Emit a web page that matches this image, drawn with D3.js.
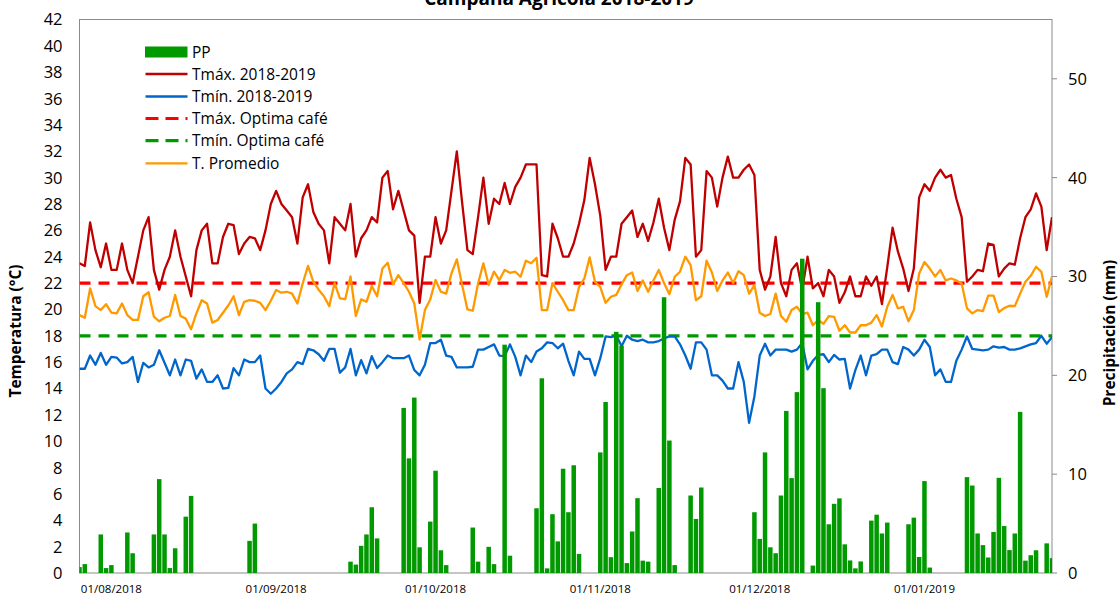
<!DOCTYPE html>
<html><head><meta charset="utf-8">
<script src="https://cdn.jsdelivr.net/npm/d3@7"></script>
<style>
html,body{margin:0;padding:0;background:#fff;}
svg{display:block;font-family:"Open Sans",sans-serif;}
</style></head>
<body><svg id="c" width="1120" height="595"></svg>
<script>
const title = "Campaña Agrícola 2018-2019";
const startDate = "2018-07-26";
const tickLabels = ["01/08/2018","01/09/2018","01/10/2018","01/11/2018","01/12/2018","01/01/2019"];
const tickDates = ["2018-08-01","2018-09-01","2018-10-01","2018-11-01","2018-12-01","2019-01-01"];
const leftTicks = [0,2,4,6,8,10,12,14,16,18,20,22,24,26,28,30,32,34,36,38,40,42];
const rightTicks = [0,10,20,30,40,50];
const tmaxOpt = 22;
const tminOpt = 18;

const tmax = [23.5,23.3,26.6,24.5,23.2,25.0,23.0,23.0,25.0,23.0,22.0,24.0,26.0,27.0,23.0,21.5,23.0,24.0,26.0,24.0,
22.5,21.0,24.5,26.0,26.5,23.5,23.5,25.5,26.5,26.4,24.2,25.0,25.5,25.4,24.5,26.0,28.0,29.0,28.0,27.5,
27.0,25.0,28.5,29.5,27.4,26.5,26.0,23.5,27.0,26.5,26.0,28.0,24.0,25.4,26.0,27.0,26.6,30.0,30.5,27.6,
29.0,27.5,26.0,25.6,20.5,24.0,24.0,27.0,25.0,26.0,29.0,32.0,28.1,24.5,24.2,27.0,30.0,26.5,28.4,28.0,
29.6,28.0,29.3,30.0,31.0,31.0,31.0,22.6,22.5,26.5,25.4,24.0,24.0,25.0,26.5,28.3,31.5,29.5,27.1,23.0,
24.0,24.0,26.5,27.0,27.5,25.5,26.5,25.2,26.6,28.4,26.2,24.5,26.8,28.2,31.5,31.0,24.0,24.5,30.5,30.0,
27.8,30.0,31.6,30.0,30.0,30.6,31.0,30.2,23.0,21.5,22.5,25.5,22.0,21.0,23.0,23.5,21.5,24.0,21.6,22.0,
21.0,23.0,22.5,20.5,21.3,22.5,21.0,21.0,22.5,21.8,22.5,20.4,23.2,26.2,24.4,23.1,21.4,23.1,28.5,29.5,
29.0,30.0,30.6,30.0,30.2,28.4,27.0,22.1,22.5,23.0,22.9,25.0,24.9,22.5,23.1,23.5,23.4,25.4,27.0,27.6,
28.8,27.8,24.5,27.0];

const tmin = [15.5,15.5,16.5,15.8,16.7,15.8,16.4,16.35,15.9,16.0,16.4,14.5,15.95,15.6,15.8,16.9,15.95,15.0,16.2,15.0,
16.2,16.1,14.75,15.45,14.5,14.5,15.0,14.0,14.05,15.55,15.0,16.2,16.0,16.0,16.5,14.0,13.6,14.0,14.5,15.15,
15.45,16.0,15.85,17.0,16.9,16.6,16.1,17.0,17.0,15.2,15.6,17.0,15.0,16.15,15.15,16.45,15.55,16.0,16.5,16.3,
16.3,16.3,16.5,15.4,15.0,15.8,17.45,17.45,17.7,16.5,16.4,15.6,15.6,15.6,15.65,16.95,16.95,17.15,17.35,16.5,
16.45,17.35,16.4,15.0,16.5,16.0,16.8,17.05,17.5,17.45,17.05,17.4,16.1,15.0,16.8,16.25,16.25,15.0,16.3,17.95,
17.9,18.05,17.2,18.0,17.7,17.6,17.7,17.5,17.5,17.6,17.8,17.95,17.95,17.35,16.5,15.5,17.5,17.5,16.95,15.0,
15.0,14.6,14.0,14.0,16.0,14.5,11.4,13.4,16.5,17.4,16.5,16.95,16.95,16.95,16.8,16.95,17.45,15.45,16.1,16.55,
16.6,16.0,16.55,16.2,16.25,14.0,15.4,16.5,15.0,16.5,16.6,16.95,16.95,16.0,15.85,17.15,16.95,16.5,16.95,17.7,
17.15,15.0,15.45,14.5,14.5,16.1,16.95,17.95,17.0,16.95,16.9,16.95,17.2,17.1,17.15,16.95,16.95,17.05,17.2,17.35,
17.45,18.0,17.4,17.9];

const tprom = [19.57,19.37,21.6,20.25,19.95,20.4,19.75,19.7,20.45,19.57,19.2,19.2,21.0,21.3,19.45,19.1,19.37,19.5,21.1,19.5,
19.3,18.5,19.7,20.7,20.45,19.0,19.2,19.75,20.3,21.0,19.57,20.58,20.7,20.66,20.5,19.95,20.66,21.47,21.27,21.34,
21.2,20.45,21.97,23.3,22.1,21.5,21.0,20.25,22.0,20.84,20.78,22.5,19.5,20.76,20.58,21.77,21.0,23.1,23.54,21.9,
22.6,22.0,21.34,20.45,17.72,19.95,20.76,22.23,21.34,21.2,22.73,23.8,21.85,20.0,19.9,21.97,23.5,21.85,22.86,22.23,
22.99,22.78,22.86,22.48,23.7,23.5,23.92,19.95,19.95,22.0,21.34,20.7,19.95,19.95,21.7,22.35,23.95,22.1,21.7,20.5,
20.96,21.1,21.9,22.6,22.8,21.4,22.2,21.34,22.2,22.99,22.0,21.16,22.48,22.86,24.0,23.37,20.7,21.0,23.7,22.8,
21.4,22.2,22.8,22.0,22.9,22.6,21.2,21.85,19.75,19.5,19.65,21.2,19.5,19.06,19.95,20.2,19.65,19.75,18.8,19.2,
18.9,19.5,19.44,18.38,18.8,18.25,18.25,18.8,18.8,19.0,19.57,18.7,20.2,21.1,20.08,20.2,19.1,19.95,22.73,23.6,
23.1,22.5,23.0,22.2,22.35,22.2,21.97,20.08,19.7,19.95,19.87,21.04,21.04,19.8,20.1,20.28,20.25,21.2,22.1,22.55,
23.24,22.86,20.96,22.5];

const pp = [0.6,0.9,0,0,3.9,0.5,0.8,0,0,4.1,2.0,0,0,0,3.9,9.5,3.9,0.5,2.5,0,
5.7,7.8,0,0,0,0,0,0,0,0,0,0,3.25,5.0,0,0,0,0,0,0,
0,0,0,0,0,0,0,0,0,0,0,1.15,0.85,2.75,3.9,6.65,3.5,0,0,0,
0,16.7,11.6,17.75,2.6,0,5.2,10.35,2.3,0.8,0,0,0,0,4.6,1.15,0,2.65,0.9,0,
23.1,1.75,0,0,0,0,6.55,19.7,0.47,5.95,3.2,10.55,6.15,10.9,1.93,0,0,0,12.2,17.3,
1.6,24.4,23.0,1.0,4.2,7.57,1.25,1.15,0,8.6,27.9,13.4,0.8,0,0,7.84,5.47,8.65,0,0,
0,0,0,0,0,0,0,6.15,3.45,12.2,2.6,2.0,7.84,16.4,9.6,18.3,31.8,0,0.75,27.4,
18.7,4.93,7.0,7.55,2.9,1.27,0.47,1.17,0,5.3,5.9,4.0,5.1,0,0,0,4.93,5.6,1.62,9.3,
0.55,0,0,0,0,0,0,9.7,8.85,4.0,2.82,1.57,4.15,9.63,4.75,2.32,4.0,16.3,1.25,1.8,
2.3,0,3.0,1.5];

const legendItems = [
  {label:"PP", type:"bar", color:"#009900"},
  {label:"Tmáx. 2018-2019", type:"line", color:"#C00000"},
  {label:"Tmín. 2018-2019", type:"line", color:"#0066CC"},
  {label:"Tmáx. Optima café", type:"dash", color:"#FF0000"},
  {label:"Tmín. Optima café", type:"dash", color:"#009900"},
  {label:"T. Promedio", type:"line", color:"#FF9900"}
];

const W = 1120, H = 595;
const m = {left:79.5, right:1052, top:19.5, bottom:573};
const svg = d3.select("#c");

const parse = d3.utcParse("%Y-%m-%d");
const d0 = parse(startDate);
const dates = tmax.map((_, i) => d3.utcDay.offset(d0, i));

const x = d3.scaleUtc().domain([dates[0], dates[dates.length-1]]).range([m.left, m.right]);
const yL = d3.scaleLinear().domain([0, 42]).range([m.bottom, m.top]);
const yR = d3.scaleLinear().domain([0, 56]).range([m.bottom, m.top]);

svg.append("defs").append("clipPath").attr("id","clip")
  .append("rect").attr("x", m.left).attr("y", m.top)
  .attr("width", m.right - m.left).attr("height", m.bottom - m.top);

// plot border
svg.append("rect").attr("x", m.left).attr("y", m.top)
  .attr("width", m.right - m.left).attr("height", m.bottom - m.top)
  .attr("fill", "none").attr("stroke", "#8a8a8a").attr("stroke-width", 1);

const g = svg.append("g").attr("clip-path", "url(#clip)");

const lineT = d3.line().x((d, i) => x(dates[i])).y(d => yL(d)).curve(d3.curveLinear);

// optimal dashed lines
[[tmaxOpt, "#FF0000"], [tminOpt, "#009900"]].forEach(([v, c]) => {
  g.append("line").attr("x1", x(dates[0])).attr("x2", x(dates[dates.length-1]))
    .attr("y1", yL(v)).attr("y2", yL(v))
    .attr("stroke", c).attr("stroke-width", 3.2).attr("stroke-dasharray", "11,8");
});

// temperature lines
[[tmax, "#C00000"], [tmin, "#0066CC"], [tprom, "#FF9900"]].forEach(([arr, c]) => {
  g.append("path").datum(arr).attr("d", lineT)
    .attr("fill", "none").attr("stroke", c).attr("stroke-width", 2.3)
    .attr("stroke-linejoin", "round");
});

// precipitation bars (secondary axis)
const bw = 4.5;
g.selectAll("rect.pp").data(pp).enter().append("rect")
  .attr("x", (d, i) => x(dates[i]) - bw/2)
  .attr("width", bw)
  .attr("y", d => yR(d))
  .attr("height", d => yR(0) - yR(d))
  .attr("fill", "#009900");

// left axis labels
svg.append("g").selectAll("text").data(leftTicks).enter().append("text")
  .attr("x", 62.5).attr("y", d => yL(d)).attr("dy", "0.36em")
  .attr("text-anchor", "end").attr("font-size", 16.5).attr("fill", "#000")
  .text(d => d);

// right axis ticks & labels
const ra = svg.append("g");
ra.selectAll("line").data(rightTicks).enter().append("line")
  .attr("x1", m.right).attr("x2", m.right + 5)
  .attr("y1", d => yR(d)).attr("y2", d => yR(d))
  .attr("stroke", "#8a8a8a");
ra.selectAll("text").data(rightTicks).enter().append("text")
  .attr("x", 1068).attr("y", d => yR(d)).attr("dy", "0.36em")
  .attr("text-anchor", "start").attr("font-size", 16.5).attr("fill", "#000")
  .text(d => d);

// x labels
svg.append("g").selectAll("text").data(tickDates).enter().append("text")
  .attr("x", d => x(parse(d))).attr("y", 592.5)
  .attr("text-anchor", "middle").attr("font-size", 11.5).attr("fill", "#000")
  .text((d, i) => tickLabels[i]);

// titles
svg.append("text").attr("x", 559).attr("y", 5).attr("text-anchor", "middle")
  .attr("font-size", 19).attr("font-weight", "bold").text(title);
svg.append("text").attr("transform", "translate(21,331) rotate(-90)")
  .attr("text-anchor", "middle").attr("font-size", 15.5).attr("font-weight", "bold")
  .text("Temperatura (°C)");
svg.append("text").attr("transform", "translate(1115,333) rotate(-90)")
  .attr("text-anchor", "middle").attr("font-size", 15.5).attr("font-weight", "bold")
  .text("Precipitación (mm)");

// legend
const lg = svg.append("g");
const ly = [52, 74, 96.5, 118.5, 140.7, 163.3];
legendItems.forEach((it, i) => {
  const y = ly[i];
  if (it.type === "bar") {
    lg.append("rect").attr("x", 145).attr("y", y - 5.5).attr("width", 42.5).attr("height", 11).attr("fill", it.color);
  } else {
    lg.append("line").attr("x1", 145.5).attr("x2", 187.5).attr("y1", y).attr("y2", y)
      .attr("stroke", it.color)
      .attr("stroke-width", it.type === "dash" ? 3.2 : 2.3)
      .attr("stroke-dasharray", it.type === "dash" ? "13,7" : null);
  }
  lg.append("text").attr("x", 192).attr("y", y).attr("dy", "0.36em")
    .attr("font-size", 15.5).attr("fill", "#000").text(it.label);
});
</script></body></html>
